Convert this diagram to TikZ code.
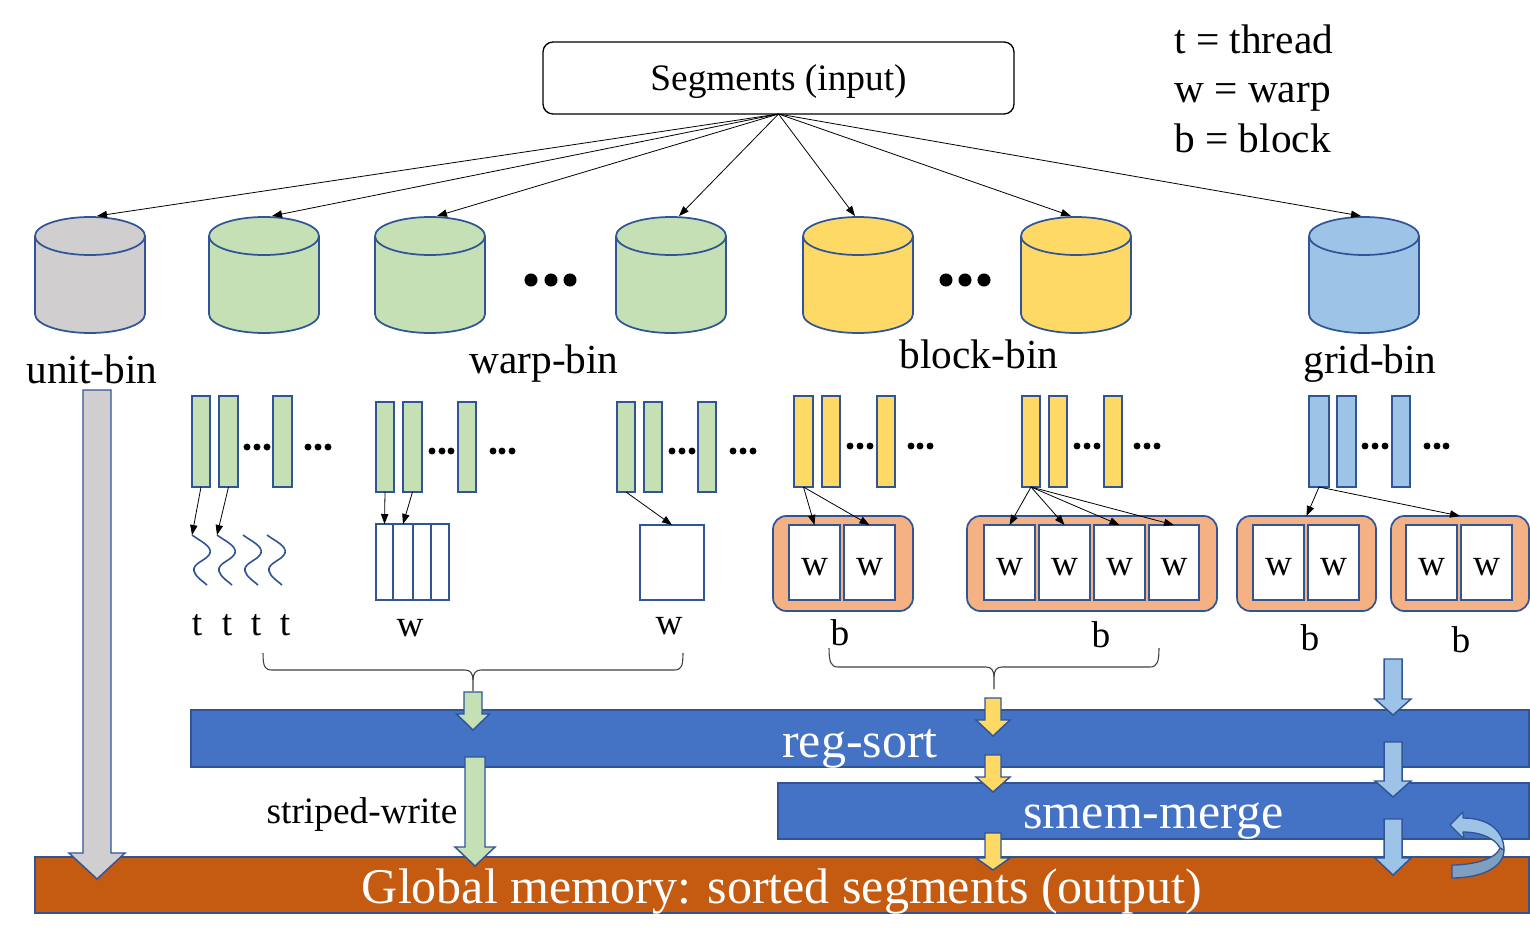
\documentclass[tikz,border=0pt]{standalone}
\usepackage{fontspec}
\setmainfont{Liberation Serif}
\usetikzlibrary{arrows.meta}
\definecolor{bord}{HTML}{2F5597}
\definecolor{cgray}{HTML}{D0CECE}
\definecolor{cgreen}{HTML}{C5E0B4}
\definecolor{cyellow}{HTML}{FFD966}
\definecolor{cblue}{HTML}{9DC3E6}
\definecolor{cbluedark}{HTML}{7F9FC0}
\definecolor{corange}{HTML}{F4B183}
\definecolor{cbar}{HTML}{4472C4}
\definecolor{cglobal}{HTML}{C55A11}
\newcommand\fs[1]{\fontsize{#1}{#1}\selectfont}
\newcommand\rbox[7]{\node[#1, minimum width={(#4-#2)*0.75pt}, minimum height={(#5-#3)*0.75pt}] (#6) at ({(#2+#4)/2},{(#3+#5)/2}) {#7};}
\newcommand\fatarrow[7]{\filldraw[fill=#1, draw=bord, line width=1.1pt, line join=miter] (#2-#6,#3) -- (#2+#6,#3) -- (#2+#6,#4) -- (#2+#7,#4) -- (#2,#5) -- (#2-#7,#4) -- (#2-#6,#4) -- cycle;}
\begin{document}
\begin{tikzpicture}[x=0.75pt,y=-0.75pt,
  bd/.style={draw=bord, line width=1.3pt},
  barst/.style={bd, inner sep=0pt, outer sep=0pt},
  cellst/.style={bd, fill=white, inner sep=0pt, outer sep=0pt, font=\fs{28}, text height=19.6pt, text depth=0pt},
  blkst/.style={bd, fill=corange, rounded corners=10pt, inner sep=0pt, outer sep=0pt},
  arr/.style={-{Triangle[length=7.5pt,width=5.5pt]}, line width=0.6pt, black},
  lab/.style={anchor=base, inner sep=0pt, font=\fs{28}},
  binlab/.style={anchor=base, inner sep=0pt, font=\fs{31}},
  bigbar/.style={bd, line width=1.5pt, inner sep=0pt, outer sep=0pt, text=white, font=\fs{37.5}, text depth=0pt},
  brc/.style={draw=black!75, line width=0.8pt},
]
\useasboundingbox (0,0) rectangle (1530,946);

% Segments box
\node[draw=black, line width=1pt, rounded corners=7.5pt, minimum width=353.25pt, minimum height=54pt, inner sep=0pt, outer sep=0pt, font=\fs{28}, text height=18pt, text depth=0pt] (seg) at (778.5,78) {Segments (input)};

% legend
\node[anchor=base west, inner sep=0pt, font=\fs{31}] (lg1) at (1174,53) {t = thread};
\node[anchor=base west, inner sep=0pt, font=\fs{31}] (lg2) at (1174,102) {w = warp};
\node[anchor=base west, inner sep=0pt, font=\fs{31}] (lg3) at (1174,152) {b = block};

% cylinders
\foreach \cx/\cc in {90/cgray,264/cgreen,430/cgreen,671/cgreen,858/cyellow,1076/cyellow,1364/cblue}{
  \filldraw[fill=\cc, bd] (\cx,314) ellipse [x radius=41.25pt, y radius=14.25pt];
  \fill[\cc] (\cx-55,236) rectangle (\cx+55,314);
  \draw[bd] (\cx-55,236) -- (\cx-55,314) (\cx+55,236) -- (\cx+55,314);
  \filldraw[fill=\cc, bd] (\cx,236) ellipse [x radius=41.25pt, y radius=14.25pt];
}
\coordinate (cy1) at (97,216);
\coordinate (cy2) at (272,216);
\coordinate (cy3) at (437,216);
\coordinate (cy4) at (679,216);
\coordinate (cy5) at (855,216);
\coordinate (cy6) at (1071,216);
\coordinate (cy7) at (1361,216);
\foreach \c in {cy1,cy2,cy3,cy4,cy5,cy6,cy7}{\draw[arr] (seg.south) -- (\c);}

% big dots
\foreach \x in {531,551,570,946,965,984}{\fill (\x,280) circle [radius=4.9pt];}

% bin labels
\node[binlab] (lu) at (92,383) {unit-bin};
\node[binlab] (lw) at (544,373) {warp-bin};
\node[binlab] (lb) at (979,368) {block-bin};
\node[binlab] (lgr) at (1370,373) {grid-bin};

% bars
\rbox{barst,fill=cgreen}{192}{396}{210}{487}{g1a}{}
\rbox{barst,fill=cgreen}{219}{396}{238}{487}{g1b}{}
\rbox{barst,fill=cgreen}{273}{396}{292}{487}{g1c}{}
\rbox{barst,fill=cgreen}{376}{402}{394}{492}{g2a}{}
\rbox{barst,fill=cgreen}{403}{402}{422}{492}{g2b}{}
\rbox{barst,fill=cgreen}{458}{402}{476}{492}{g2c}{}
\rbox{barst,fill=cgreen}{617}{402}{635}{492}{g3a}{}
\rbox{barst,fill=cgreen}{644}{402}{662}{492}{g3b}{}
\rbox{barst,fill=cgreen}{698}{402}{716}{492}{g3c}{}
\rbox{barst,fill=cyellow}{794}{396}{813}{487}{g4a}{}
\rbox{barst,fill=cyellow}{822}{396}{840}{487}{g4b}{}
\rbox{barst,fill=cyellow}{877}{396}{895}{487}{g4c}{}
\rbox{barst,fill=cyellow}{1022}{396}{1040}{487}{g5a}{}
\rbox{barst,fill=cyellow}{1049}{396}{1067}{487}{g5b}{}
\rbox{barst,fill=cyellow}{1104}{396}{1122}{487}{g5c}{}
\rbox{barst,fill=cblue}{1309}{396}{1329}{487}{g6a}{}
\rbox{barst,fill=cblue}{1337}{396}{1356}{487}{g6b}{}
\rbox{barst,fill=cblue}{1392}{396}{1410}{487}{g6c}{}

% small dots
\foreach \x/\y in {247/447,257/447,267/447,308/447,318/447,328/447,
  432/451,442/451,451/451,493/451,502/451,512/451,
  672/451,682/451,692/451,733/451,743/451,753/451,
  850/446,860/446,870/446,911/446,920/446,930/446,
  1077/446,1087/446,1097/446,1137/446,1147/446,1157/446,
  1365/446,1375/446,1385/446,1427/446,1437/446,1446/446}{\fill (\x,\y) circle [radius=2.6pt];}

% threads
\foreach \s in {192,217,243,267}{
  \draw[bord, line width=1.2pt] (\s,535) .. controls (\s+8,541) and (\s+20,546) .. (\s+18,553) .. controls (\s+16,560) and (\s,563) .. (\s+2,571) .. controls (\s+4,578) and (\s+11,581) .. (\s+15,585);
}
\coordinate (th1) at (192,535);
\coordinate (th2) at (217,535);
\node[lab] (t1) at (197,635) {t};
\node[lab] (t2) at (227,635) {t};
\node[lab] (t3) at (256,635) {t};
\node[lab] (t4) at (285,635) {t};

% warp cells
\rbox{cellst}{376}{524}{393}{600}{wc1}{}
\rbox{cellst}{393}{524}{413}{600}{wc2}{}
\rbox{cellst}{413}{524}{431}{600}{wc3}{}
\rbox{cellst}{431}{524}{449}{600}{wc4}{}
\node[lab] (lw1) at (410,636) {w};
\rbox{cellst}{640}{525}{704}{600}{g3box}{}
\node[lab] (lw2) at (669,634) {w};

% blocks
\rbox{blkst}{773}{516}{913}{611}{bk1}{}
\rbox{cellst}{789}{525}{840}{600}{c11}{w}
\rbox{cellst}{844}{525}{895}{600}{c12}{w}
\rbox{blkst}{967}{516}{1217}{611}{bk2}{}
\rbox{cellst}{984}{525}{1035}{600}{c21}{w}
\rbox{cellst}{1039}{525}{1090}{600}{c22}{w}
\rbox{cellst}{1094}{525}{1145}{600}{c23}{w}
\rbox{cellst}{1149}{525}{1199}{600}{c24}{w}
\rbox{blkst}{1237}{516}{1376}{611}{bkA}{}
\rbox{cellst}{1253}{525}{1304}{600}{cA1}{w}
\rbox{cellst}{1308}{525}{1359}{600}{cA2}{w}
\rbox{blkst}{1391}{516}{1529}{611}{bkB}{}
\rbox{cellst}{1406}{525}{1457}{600}{cB1}{w}
\rbox{cellst}{1461}{525}{1512}{600}{cB2}{w}
\node[lab] (lb1) at (840,645) {b};
\node[lab] (lb2) at (1101,647) {b};
\node[lab] (lb3) at (1310,650) {b};
\node[lab] (lb4) at (1461,652) {b};

% small arrows
\draw[arr] (g1a.south) -- (th1);
\draw[arr] (g1b.south) -- (th2);
\draw[arr] (g2a.south) -- (wc1.north);
\draw[arr] (g2b.south) -- (wc2.north);
\draw[arr] (g3a.south) -- (g3box.north);
\draw[arr] (g4a.south) -- (c11.north);
\draw[arr] (g4a.south) -- (c12.north);
\draw[arr] (g5a.south) -- (c21.north);
\draw[arr] (g5a.south) -- (c22.north);
\draw[arr] (g5a.south) -- (c23.north);
\draw[arr] (g5a.south) -- (c24.north);
\draw[arr] (g6a.south) -- (bkA.north);
\draw[arr] (g6a.south) -- (bkB.north);

% braces
\draw[brc] (263,653) .. controls (263,667) and (265,670) .. (272,670) -- (465,670) .. controls (470,670) and (473,673) .. (473,680) -- (473,691);
\draw[brc] (683,653) .. controls (683,667) and (681,670) .. (674,670) -- (481,670) .. controls (476,670) and (473,673) .. (473,680);
\draw[brc] (829,648) .. controls (829,662) and (831,667) .. (838,667) -- (986,667) .. controls (991,667) and (994,670) .. (994,677) -- (994,689);
\draw[brc] (1159,648) .. controls (1159,662) and (1157,667) .. (1150,667) -- (1002,667) .. controls (997,667) and (994,670) .. (994,677);

% process bars
\rbox{bigbar,fill=cbar,text height=27.75pt}{191}{710}{1529}{767}{reg}{reg-sort}
\rbox{bigbar,fill=cbar,text height=25.5pt}{778}{783}{1529}{839}{smem}{smem-merge}
\rbox{bigbar,fill=cglobal,text height=27pt}{35}{857}{1529}{913}{glob}{Global memory: sorted segments (output)}

\node[lab] (sw) at (362,823) {striped-write};

% fat arrows
\fatarrow{cgray}{97}{390}{853}{879}{14}{28}
\fatarrow{cgreen}{473}{692}{714}{730}{9}{16.5}
\fatarrow{cgreen}{475}{757}{847}{866}{10}{20}
\fatarrow{cyellow}{993}{698}{720}{736}{8}{17}
\fatarrow{cyellow}{993}{755}{777}{792}{8}{17}
\fatarrow{cyellow}{993}{833}{858}{870}{8}{17}
\fatarrow{cblue}{1393}{659}{699}{715}{9}{18}
\fatarrow{cblue}{1393}{742}{781}{797}{9}{18}
\fatarrow{cblue}{1393}{819}{858}{875}{9}{18}

% U-turn arrow
\filldraw[fill=cbluedark, draw=bord, line width=1pt, line join=round] (1504,850) .. controls (1504,868) and (1480,878) .. (1452,878) -- (1452,865) .. controls (1475,865) and (1497,858) .. (1500,848) -- cycle;
\filldraw[fill=cblue, draw=bord, line width=1pt, line join=round] (1463,818) .. controls (1490,818) and (1504,832) .. (1504,850) -- (1500,848) .. controls (1495,838) and (1480,832) .. (1463,832) -- (1464,839) -- (1450,825) -- (1463,812) -- cycle;
\end{tikzpicture}
\end{document}
